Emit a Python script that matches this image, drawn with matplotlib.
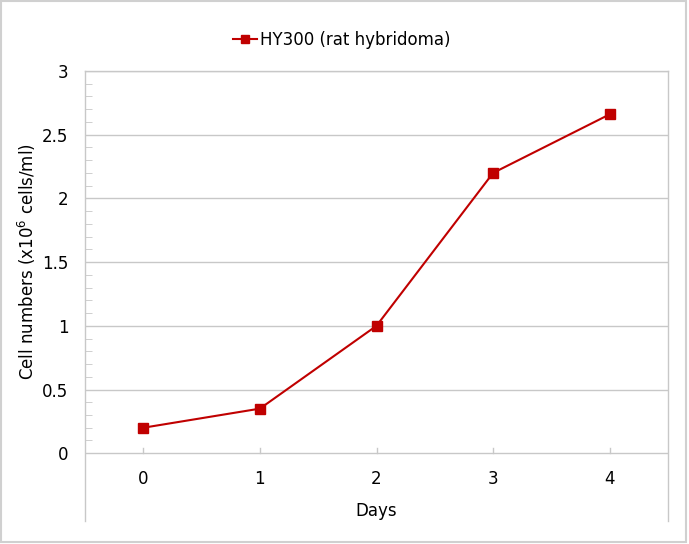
import matplotlib.pyplot as plt
from matplotlib.patches import Rectangle
import numpy as np

# Growth data
days = [0, 1, 2, 3, 4]
cells = [0.20, 0.35, 1.00, 2.20, 2.66]
series_name = 'HY300 (rat hybridoma)'
y_major = [0, 0.5, 1, 1.5, 2, 2.5, 3]
y_labels = ['0', '0.5', '1', '1.5', '2', '2.5', '3']

red = '#c00000'
grid = '#c8c8c8'

plt.rcParams['font.family'] = ['DejaVu Sans']
plt.rcParams['font.size'] = 12

fig = plt.figure(figsize=(6.89, 5.44), dpi=100)
ax = fig.add_axes([85 / 689, 1 - 521 / 544, 583 / 689, 450 / 544])

# horizontal gridlines (Excel style)
for v in y_major:
    ax.axhline(v, color=grid, lw=1.0, zorder=1)

ax.plot(days, cells, color=red, lw=1.5, marker='s', markersize=7,
        label=series_name, zorder=3)

ax.set_xlim(-0.5, 4.5)
ax.set_ylim(-0.532, 3)

for s in ['left', 'right', 'top']:
    ax.spines[s].set_color(grid)
    ax.spines[s].set_linewidth(1.0)
ax.spines['bottom'].set_visible(False)

ax.set_yticks(y_major)
ax.set_yticklabels(y_labels)
ax.set_yticks(np.arange(0, 3.01, 0.1), minor=True)
ax.tick_params(axis='y', which='major', length=0, pad=12)
ax.tick_params(axis='y', which='minor', direction='in', length=5, color=grid)

# x ticks: labels below the zero line, small marks above it
ax.set_xticks(days)
ax.tick_params(axis='x', length=0, pad=0)
ax.set_xticklabels([])
for d in days:
    ax.plot([d, d], [0, 0.04], color=grid, lw=1.0, zorder=1)
    ax.text(d, -0.2, str(d), ha='center', va='center', fontsize=12)
ax.text(2, -0.455, 'Days', ha='center', va='center', fontsize=12)

fig.text(27 / 689, 1 - 262 / 544, 'Cell numbers (x10$^{6}$ cells/ml)',
         rotation=90, ha='center', va='center', fontsize=12)

fig.legend(loc='center', bbox_to_anchor=(342 / 689, 1 - 40 / 544), frameon=False,
           handlelength=1.4, handletextpad=0.2, fontsize=12, markerscale=0.9)

# outer chart border
fig.patches.append(Rectangle((0.002, 0.004), 0.994, 0.994, transform=fig.transFigure,
                             fill=False, edgecolor='#d0d0d0', lw=1.5))

fig.savefig('out.png', dpi=100)
